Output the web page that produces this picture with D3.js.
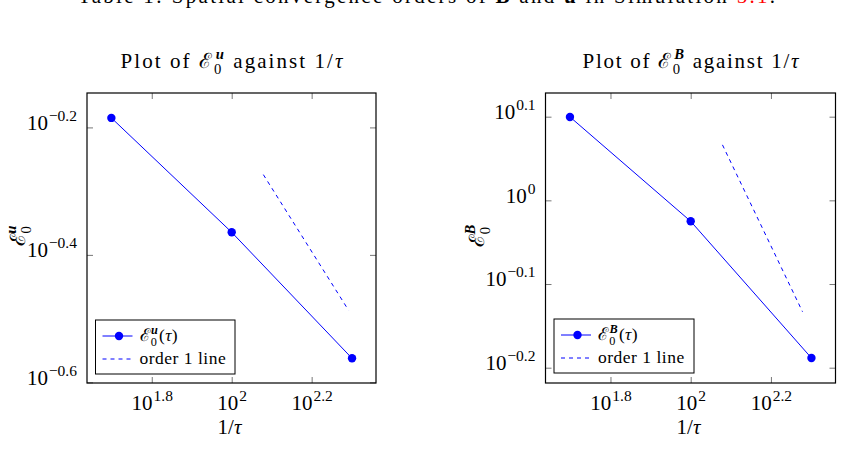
<!DOCTYPE html>
<html lang="en">
<head>
<meta charset="UTF-8">
<title>Convergence plots</title>
<style>
  body { margin: 0; background: #fff; }
  svg { display: block; font-family: "Liberation Serif", "DejaVu Serif", serif; }
  .tick line { stroke: #777; }
  .domain { stroke: none; }
</style>
</head>
<body>
<svg id="chart" width="842" height="449"></svg>
<script src="https://d3js.org/d3.v7.min.js"></script>
<script>
// data
var tauInv = [50, 100, 200]
var errU = [0.653, 0.432, 0.274]
var errB = [1.258, 0.944, 0.648]
var orderTauU = [120, 196]
var orderU = [0.532, 0.326]
var orderTauB = [120, 190]
var orderB = [1.165, 0.736]
var xTickExp = [1.8, 2, 2.2]
var yTickExpU = [-0.2, -0.4, -0.6]
var yTickExpB = [0.1, 0, -0.1, -0.2]
var xDomainExp = [1.638, 2.361]
var yDomainExpU = [-0.601, -0.146]
var yDomainExpB = [-0.2183, 0.1283]

var svg = d3.select('#chart')
var blue = '#0000ff'

// caption (cut off at the top of the page)
var cap = svg.append('text').attr('x', 78).attr('y', 3)
  .attr('font-size', 21).attr('textLength', 697).attr('lengthAdjust', 'spacing')
cap.append('tspan').text('Table 1: Spatial convergence orders of ')
cap.append('tspan').attr('font-weight', 'bold').text('B')
cap.append('tspan').text(' and ')
cap.append('tspan').attr('font-weight', 'bold').text('u')
cap.append('tspan').text(' in Simulation ')
cap.append('tspan').attr('fill', 'red').text('5.1')
cap.append('tspan').text('.')

function fmtExp (e) {
  return String(e).replace('-', '\u2212')
}

// script E with subscript 0 and bold superscript symbol;
// returns the dy that brings the next tspan back to the baseline
function errLabel (sel, sym, size) {
  sel.append('tspan').text('\u2130')
  sel.append('tspan').attr('font-size', size * 0.7).attr('dy', size * 0.3).text('0')
  sel.append('tspan').attr('font-size', size * 0.7).attr('font-weight', 'bold')
    .attr('font-style', 'italic').attr('dx', -size * 0.36).attr('dy', -size * 0.72).text(sym)
  return size * 0.42
}

function powLabels (g) {
  g.selectAll('.tick text').each(function (d) {
    var t = d3.select(this)
    t.text(null)
    t.append('tspan').text('10')
    t.append('tspan').attr('font-size', 15.5).attr('dy', -9).attr('dx', 1)
      .text(fmtExp(Math.round(Math.log10(d) * 10) / 10))
  })
}

function panel (opt) {
  var x = d3.scaleLog().domain(xDomainExp.map(function (e) { return Math.pow(10, e) }))
    .range([opt.left, opt.right])
  var y = d3.scaleLog().domain(opt.yDom.map(function (e) { return Math.pow(10, e) }))
    .range([383, 93])
  var xt = xTickExp.map(function (e) { return Math.pow(10, e) })
  var yt = opt.yTicks.map(function (e) { return Math.pow(10, e) })
  var g = svg.append('g')

  // axes with inward ticks on all four sides
  var gx = g.append('g').attr('transform', 'translate(0,383)')
    .call(d3.axisBottom(x).tickValues(xt).tickSize(-6).tickPadding(12))
  gx.selectAll('.tick text').attr('font-size', 21).attr('font-family', 'Liberation Serif').attr('fill', '#000')
  powLabels(gx)
  g.append('g').attr('transform', 'translate(0,93)')
    .call(d3.axisTop(x).tickValues(xt).tickSize(-6).tickFormat(''))
  var gy = g.append('g').attr('transform', 'translate(' + opt.left + ',0)')
    .call(d3.axisLeft(y).tickValues(yt).tickSize(-6).tickPadding(10))
  gy.selectAll('.tick text').attr('font-size', 21).attr('font-family', 'Liberation Serif').attr('fill', '#000').attr('dy', '0.08em')
  powLabels(gy)
  g.append('g').attr('transform', 'translate(' + opt.right + ',0)')
    .call(d3.axisRight(y).tickValues(yt).tickSize(-6).tickFormat(''))

  g.append('rect').attr('x', opt.left).attr('y', 93)
    .attr('width', opt.right - opt.left).attr('height', 290)
    .attr('fill', 'none').attr('stroke', '#000').attr('stroke-width', 1.2)

  // order 1 reference line
  var line = d3.line().x(function (d) { return x(d[0]) }).y(function (d) { return y(d[1]) })
  g.append('path').datum(d3.zip(opt.oTau, opt.oVal)).attr('d', line)
    .attr('fill', 'none').attr('stroke', blue).attr('stroke-dasharray', '4,4')
  // error curve
  var pts = d3.zip(tauInv, opt.err)
  g.append('path').datum(pts).attr('d', line)
    .attr('fill', 'none').attr('stroke', blue)
  g.selectAll('circle.pt').data(pts).enter().append('circle')
    .attr('class', 'pt')
    .attr('cx', function (d) { return x(d[0]) })
    .attr('cy', function (d) { return y(d[1]) })
    .attr('r', 4.2).attr('fill', blue)

  // title
  var mid = (opt.left + opt.right) / 2
  var title = g.append('text').attr('x', mid).attr('y', 68).attr('text-anchor', 'middle')
    .attr('font-size', 21).attr('textLength', opt.titleW).attr('lengthAdjust', 'spacing')
  title.append('tspan').text('Plot of ')
  var back = errLabel(title, opt.sym, 21)
  title.append('tspan').attr('dy', back).text(' against 1/')
  title.append('tspan').attr('font-style', 'italic').text('\u03c4')

  // axis labels
  var xl = g.append('text').attr('x', mid - 2).attr('y', 434).attr('text-anchor', 'middle')
    .attr('font-size', 21)
  xl.append('tspan').text('1/')
  xl.append('tspan').attr('font-style', 'italic').text('\u03c4')
  var yl = g.append('text').attr('transform', 'translate(' + (opt.left - 62) + ',236) rotate(-90)')
    .attr('text-anchor', 'middle').attr('font-size', 21)
  errLabel(yl, opt.sym, 21)

  // legend
  var lg = g.append('g').attr('transform', 'translate(' + opt.legX + ',' + opt.legY + ')')
  lg.append('rect').attr('width', opt.legW).attr('height', 54)
    .attr('fill', '#fff').attr('stroke', '#000')
  lg.append('line').attr('x1', 7).attr('x2', 37).attr('y1', 16).attr('y2', 16).attr('stroke', blue)
  lg.append('circle').attr('cx', 23.5).attr('cy', 16).attr('r', 4.2).attr('fill', blue)
  var lt = lg.append('text').attr('x', 44).attr('y', 21).attr('font-size', 17.5).attr('letter-spacing', 0.3)
  var lback = errLabel(lt, opt.sym, 17.5)
  lt.append('tspan').attr('dy', lback).attr('dx', 1).text('(')
  lt.append('tspan').attr('font-style', 'italic').text('\u03c4')
  lt.append('tspan').text(')')
  lg.append('line').attr('x1', 7).attr('x2', 37).attr('y1', 39).attr('y2', 39)
    .attr('stroke', blue).attr('stroke-dasharray', '4,4')
  lg.append('text').attr('x', 44).attr('y', 44).attr('font-size', 17.5).attr('letter-spacing', 0.5).text('order 1 line')
}

panel({ left: 87, right: 376, yDom: yDomainExpU, yTicks: yTickExpU, err: errU,
  oTau: orderTauU, oVal: orderU, sym: 'u', legX: 95.5, legY: 320, legW: 139.5, titleW: 222 })
panel({ left: 545.5, right: 835.5, yDom: yDomainExpB, yTicks: yTickExpB, err: errB,
  oTau: orderTauB, oVal: orderB, sym: 'B', legX: 554, legY: 319, legW: 140, titleW: 216 })
</script>
</body>
</html>
